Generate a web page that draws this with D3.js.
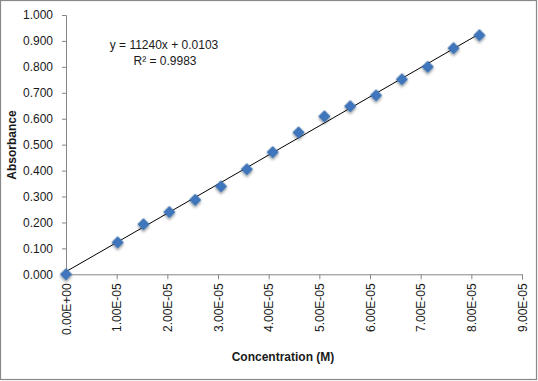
<!DOCTYPE html>
<html><head><meta charset="utf-8">
<script src="https://cdn.jsdelivr.net/npm/d3@7"></script>
<style>
html,body{margin:0;padding:0;background:#fff;}
svg{display:block;font-family:"Liberation Sans",Arial,sans-serif;}
</style></head>
<body>
<script>
// Data
const concentration = [0, 1.02e-5, 1.53e-5, 2.04e-5, 2.55e-5, 3.06e-5, 3.57e-5, 4.08e-5, 4.59e-5, 5.10e-5, 5.61e-5, 6.12e-5, 6.63e-5, 7.14e-5, 7.65e-5, 8.16e-5];
const absorbance = [0.000, 0.123, 0.193, 0.240, 0.287, 0.339, 0.405, 0.471, 0.547, 0.609, 0.648, 0.690, 0.752, 0.800, 0.872, 0.922];
const xTicks = [0, 1e-5, 2e-5, 3e-5, 4e-5, 5e-5, 6e-5, 7e-5, 8e-5, 9e-5];
const xTickLabels = ["0.00E+00","1.00E-05","2.00E-05","3.00E-05","4.00E-05","5.00E-05","6.00E-05","7.00E-05","8.00E-05","9.00E-05"];
const yTicks = [0, 0.1, 0.2, 0.3, 0.4, 0.5, 0.6, 0.7, 0.8, 0.9, 1.0];
const trendSlope = 11240;
const trendIntercept = 0.0103;
const equationLines = ["y = 11240x + 0.0103", "R² = 0.9983"];

const W = 538, H = 381;
const svg = d3.select("body").append("svg").attr("width", W).attr("height", H);

const defs = svg.append("defs");
const f = defs.append("filter").attr("id","sh").attr("x","-50%").attr("y","-50%").attr("width","200%").attr("height","200%");
f.append("feDropShadow").attr("dx",1.5).attr("dy",1.5).attr("stdDeviation",1.2).attr("flood-color","#000").attr("flood-opacity",0.35);

svg.append("rect").attr("x",0.5).attr("y",0.5).attr("width",W-2).attr("height",H-2)
  .attr("fill","#fff").attr("stroke","#898989").attr("stroke-width",1.2);

const x = d3.scaleLinear().domain([0, 9e-5]).range([66, 522]);
const y = d3.scaleLinear().domain([0, 1]).range([274.3, 15]);
const axisColor = "#868686";

// Y axis
const yAxis = svg.append("g").attr("transform","translate(66,0)")
  .call(d3.axisLeft(y).tickValues(yTicks).tickFormat(d3.format(".3f")).tickSizeOuter(0).tickSize(4).tickPadding(9));
yAxis.select(".domain").attr("stroke",axisColor);
yAxis.selectAll(".tick line").attr("stroke",axisColor);
yAxis.selectAll("text").attr("fill","#1a1a1a").style("font-size","12px");

// X axis
const xAxis = svg.append("g").attr("transform","translate(0,274.3)")
  .call(d3.axisBottom(x).tickValues(xTicks).tickFormat((d,i)=>xTickLabels[i]).tickSizeOuter(0).tickSize(5));
xAxis.select(".domain").attr("stroke",axisColor);
xAxis.selectAll(".tick line").attr("stroke",axisColor);
xAxis.selectAll("text").attr("fill","#1a1a1a").style("font-size","12px")
  .attr("transform","rotate(-90)").attr("text-anchor","end").attr("x",-9).attr("y",0).attr("dy","0.35em");

// Trend line
const xmax = d3.max(concentration);
svg.append("line")
  .attr("x1", x(0)).attr("y1", y(trendIntercept))
  .attr("x2", x(xmax)).attr("y2", y(trendSlope*xmax + trendIntercept))
  .attr("stroke","#000").attr("stroke-width",1);

// Markers
const pts = concentration.map((c,i)=>({c, a: absorbance[i]}));
svg.append("g").selectAll("path").data(pts).join("path")
  .attr("d", d3.symbol().type(d3.symbolSquare).size(66))
  .attr("transform", d => `translate(${x(d.c)},${y(d.a)}) rotate(45)`)
  .attr("fill","#3F76BD").attr("stroke","#36689F").attr("stroke-width",0.6)
  .attr("filter","url(#sh)");

// Equation
svg.append("text").attr("x",164).attr("y",49).attr("text-anchor","middle")
  .style("font-size","12px").attr("fill","#1a1a1a").text(equationLines[0]);
svg.append("text").attr("x",165).attr("y",65).attr("text-anchor","middle")
  .style("font-size","12px").attr("fill","#1a1a1a").text(equationLines[1]);

// Axis titles
svg.append("text").attr("transform","translate(16,145) rotate(-90)").attr("text-anchor","middle")
  .style("font-size","12px").style("font-weight","bold").attr("fill","#1a1a1a").text("Absorbance");
svg.append("text").attr("x",283).attr("y",361).attr("text-anchor","middle")
  .style("font-size","12px").style("font-weight","bold").attr("fill","#1a1a1a").text("Concentration (M)");
</script>
</body></html>
